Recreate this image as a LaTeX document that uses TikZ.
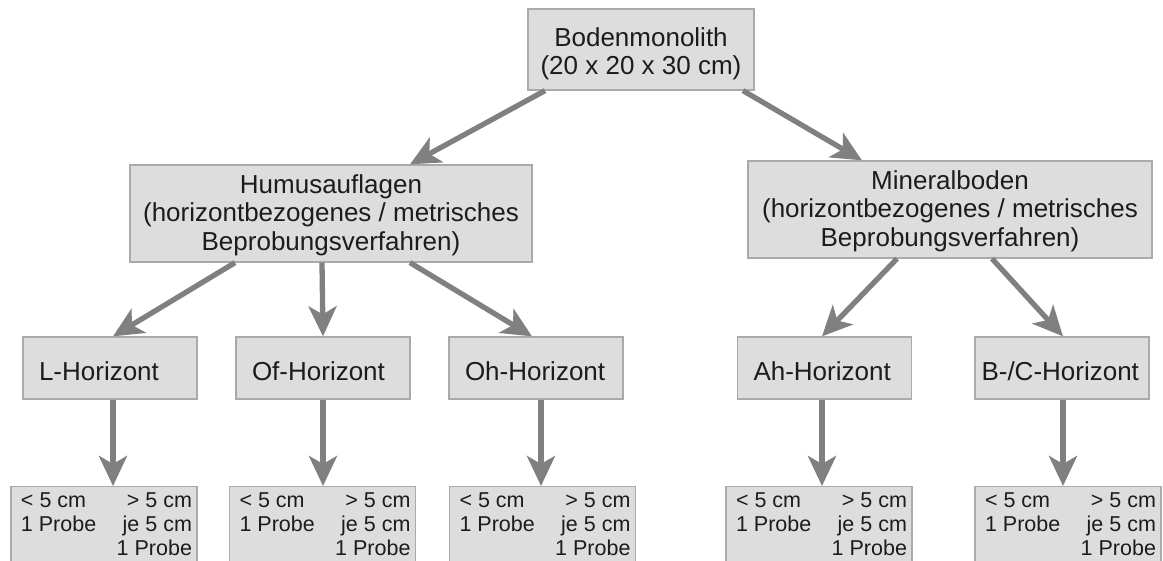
\documentclass[tikz,border=0pt]{standalone}
\usepackage{fontspec}
\setmainfont{Liberation Sans}
\usetikzlibrary{arrows.meta}

\definecolor{boxfill}{RGB}{221,221,221}
\definecolor{boxline}{RGB}{170,170,170}
\definecolor{arrowgray}{RGB}{128,128,128}
\definecolor{textgray}{RGB}{28,28,28}

\begin{document}
\begin{tikzpicture}[x=1pt, y=-1pt,
        box/.style={draw=boxline, fill=boxfill, line width=1.3pt, text=textgray, inner sep=0pt,
            font=\fontsize{26}{28.5}\selectfont},
        bigbox/.style={box, align=center, text depth=5pt},
        horbox/.style={box, minimum width=174pt, minimum height=62pt, text width=142pt,
            align=left, text height=26pt, text depth=0pt},
        probebox/.style={box, anchor=north, minimum width=186pt, inner ysep=4pt,
            font=\fontsize{21.5}{24}\selectfont},
        arr/.style={draw=arrowgray, line width=5.3pt, -{Stealth[length=30pt, width=28pt, inset=8pt]}}]
        \useasboundingbox (0, 0) rectangle (1163, 561);
        \clip (0, 0) rectangle (1163, 561);

        % Top
        \node[bigbox, minimum width=226pt, minimum height=81pt, text height=56pt] (mono) at (641, 49.5)
            {Bodenmonolith\\(20 x 20 x 30 cm)};

        % Second level
        \node[bigbox, minimum width=402pt, minimum height=97pt, text height=79pt] (humus) at (331, 213.5)
            {Humusauflagen\\(horizontbezogenes / metrisches\\Beprobungsverfahren)};
        \node[bigbox, minimum width=404pt, minimum height=97pt, text height=79pt] (mineral) at (950, 209.5)
            {Mineralboden\\(horizontbezogenes / metrisches\\Beprobungsverfahren)};

        % Horizons
        \node[horbox] (lhor) at (110, 368) {L-Horizont};
        \node[horbox] (ofhor) at (323, 368) {Of-Horizont};
        \node[horbox] (ohhor) at (536, 368) {Oh-Horizont};
        \node[horbox] (ahhor) at (824.5, 368) {Ah-Horizont};
        \node[horbox, text width=161pt] (bchor) at (1062, 368) {B-/C-Horizont};

        % Sampling boxes (cut off at the bottom)
        \newcommand{\probetext}{%
            \begin{tabular*}{176pt}{@{\hspace{5pt}}l@{\extracolsep{\fill}}r@{}}
                < 5 cm & > 5 cm\\
                1 Probe & je 5 cm\\
                & 1 Probe
            \end{tabular*}}
        \node[probebox] (lprobe) at (104, 486) {\probetext};
        \node[probebox] (ofprobe) at (322.5, 486) {\probetext};
        \node[probebox] (ohprobe) at (542.5, 486) {\probetext};
        \node[probebox] (ahprobe) at (819, 486) {\probetext};
        \node[probebox] (bcprobe) at (1068, 486) {\probetext};

        % Arrows
        \draw[arr] ([xshift=-96pt]mono.south) -- ([xshift=79pt]humus.north);
        \draw[arr] ([xshift=102pt]mono.south) -- ([xshift=-88pt]mineral.north);

        \draw[arr] ([xshift=-96pt]humus.south) -- ([xshift=3pt]lhor.north);
        \draw[arr] ([xshift=-9pt]humus.south) -- (ofhor.north);
        \draw[arr] ([xshift=79pt]humus.south) -- ([xshift=-4pt]ohhor.north);
        \draw[arr] ([xshift=-53pt]mineral.south) -- ([xshift=-2.5pt]ahhor.north);
        \draw[arr] ([xshift=42pt]mineral.south) -- ([xshift=1pt]bchor.north);

        \draw[arr] ([xshift=3pt]lhor.south) -- ([xshift=9pt]lprobe.north);
        \draw[arr] (ofhor.south) -- ([xshift=0.5pt]ofprobe.north);
        \draw[arr] ([xshift=5pt]ohhor.south) -- ([xshift=-1.5pt]ohprobe.north);
        \draw[arr] ([xshift=-2.5pt]ahhor.south) -- ([xshift=3pt]ahprobe.north);
        \draw[arr] ([xshift=1pt]bchor.south) -- ([xshift=-5pt]bcprobe.north);
    \end{tikzpicture}
\end{document}
